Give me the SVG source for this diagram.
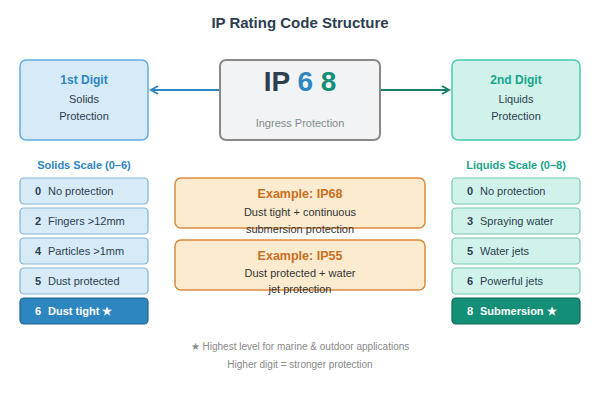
<svg xmlns="http://www.w3.org/2000/svg" width="600" height="400" viewBox="0 0 600 400">
<defs>
<style>
text{font-family:"Liberation Sans",Arial,sans-serif}
.title{font-size:15px;font-weight:bold;fill:#2c3e50}
.h{font-size:12px;font-weight:bold}
.t{font-size:11px;fill:#2c3e50}
.num{font-size:11px;font-weight:bold;fill:#2c3e50}
.bl{fill:#d6eaf8;stroke:#7fb3d5;stroke-width:1.2}
.gr{fill:#d1f2eb;stroke:#76c7b0;stroke-width:1.2}
.ex{fill:#fdebd0;stroke:#dc8a3e;stroke-width:1.5}
.exh{font-size:12.5px;font-weight:bold;fill:#ca6f1e}
.foot{font-size:10px;fill:#888}
</style>
<marker id="ab" markerWidth="10" markerHeight="10" refX="8" refY="5" orient="auto" markerUnits="userSpaceOnUse">
<path d="M1,1 L8,5 L1,9" fill="none" stroke="#2e86c1" stroke-width="2"/>
</marker>
<marker id="ag" markerWidth="10" markerHeight="10" refX="8" refY="5" orient="auto" markerUnits="userSpaceOnUse">
<path d="M1,1 L8,5 L1,9" fill="none" stroke="#17806b" stroke-width="2"/>
</marker>
</defs>
<rect width="600" height="400" fill="#ffffff"/>
<text class="title" x="300" y="28" text-anchor="middle">IP Rating Code Structure</text>

<g id="connectors">
<line x1="220" y1="90" x2="151" y2="90" stroke="#2e86c1" stroke-width="2" marker-end="url(#ab)"/>
<line x1="380" y1="90" x2="449" y2="90" stroke="#17806b" stroke-width="2" marker-end="url(#ag)"/>
</g>

<g id="digit1">
<rect x="20" y="60" width="128" height="80" rx="6" fill="#d6eaf8" stroke="#5dade2" stroke-width="1.5"/>
<text class="h" x="84" y="84" text-anchor="middle" fill="#2e86c1">1st Digit</text>
<text class="t" x="84" y="103" text-anchor="middle">Solids</text>
<text class="t" x="84" y="120" text-anchor="middle">Protection</text>
</g>

<g id="code">
<rect x="220" y="60" width="160" height="80" rx="6" fill="#f2f3f4" stroke="#888888" stroke-width="2"/>
<text x="300" y="91" text-anchor="middle" font-size="28" font-weight="bold"><tspan fill="#2c3e50">IP </tspan><tspan fill="#2e86c1">6</tspan><tspan fill="#2c3e50"> </tspan><tspan fill="#148f77">8</tspan></text>
<text x="300" y="127" text-anchor="middle" font-size="11" fill="#7f8c8d">Ingress Protection</text>
</g>

<g id="digit2">
<rect x="452" y="60" width="128" height="80" rx="6" fill="#d1f2eb" stroke="#48c9b0" stroke-width="1.5"/>
<text class="h" x="516" y="84" text-anchor="middle" fill="#17a589">2nd Digit</text>
<text class="t" x="516" y="103" text-anchor="middle">Liquids</text>
<text class="t" x="516" y="120" text-anchor="middle">Protection</text>
</g>

<text x="84" y="169" text-anchor="middle" font-size="11" font-weight="bold" fill="#2e86c1">Solids Scale (0–6)</text>
<g id="s0"><rect class="bl" x="20" y="178" width="128" height="26" rx="4"/><text class="num" x="35" y="195">0</text><text class="t" x="48" y="195">No protection</text></g>
<g id="s2"><rect class="bl" x="20" y="208" width="128" height="26" rx="4"/><text class="num" x="35" y="225">2</text><text class="t" x="48" y="225">Fingers &gt;12mm</text></g>
<g id="s4"><rect class="bl" x="20" y="238" width="128" height="26" rx="4"/><text class="num" x="35" y="255">4</text><text class="t" x="48" y="255">Particles &gt;1mm</text></g>
<g id="s5"><rect class="bl" x="20" y="268" width="128" height="26" rx="4"/><text class="num" x="35" y="285">5</text><text class="t" x="48" y="285">Dust protected</text></g>
<g id="s6"><rect x="20" y="298" width="128" height="26" rx="4" fill="#2e86c1" stroke="#21618c" stroke-width="1.2"/><text class="num" x="35" y="315" style="fill:#fff">6</text><text x="48" y="315" font-size="11" font-weight="bold" fill="#ffffff">Dust tight ★</text></g>

<text x="516" y="169" text-anchor="middle" font-size="11" font-weight="bold" fill="#17a589">Liquids Scale (0–8)</text>
<g id="l0"><rect class="gr" x="452" y="178" width="128" height="26" rx="4"/><text class="num" x="467" y="195">0</text><text class="t" x="480" y="195">No protection</text></g>
<g id="l3"><rect class="gr" x="452" y="208" width="128" height="26" rx="4"/><text class="num" x="467" y="225">3</text><text class="t" x="480" y="225">Spraying water</text></g>
<g id="l5"><rect class="gr" x="452" y="238" width="128" height="26" rx="4"/><text class="num" x="467" y="255">5</text><text class="t" x="480" y="255">Water jets</text></g>
<g id="l6"><rect class="gr" x="452" y="268" width="128" height="26" rx="4"/><text class="num" x="467" y="285">6</text><text class="t" x="480" y="285">Powerful jets</text></g>
<g id="l8"><rect x="452" y="298" width="128" height="26" rx="4" fill="#148f77" stroke="#0e6655" stroke-width="1.2"/><text class="num" x="467" y="315" style="fill:#fff">8</text><text x="480" y="315" font-size="11" font-weight="bold" fill="#ffffff">Submersion ★</text></g>

<g id="ex68">
<rect class="ex" x="175" y="178" width="250" height="50" rx="6"/>
<text class="exh" x="300" y="198" text-anchor="middle">Example: IP68</text>
<text class="t" x="300" y="216" text-anchor="middle" style="fill:#333">Dust tight + continuous</text>
<text class="t" x="300" y="233" text-anchor="middle" style="fill:#333">submersion protection</text>
</g>
<g id="ex55">
<rect class="ex" x="175" y="240" width="250" height="50" rx="6"/>
<text class="exh" x="300" y="260" text-anchor="middle">Example: IP55</text>
<text class="t" x="300" y="277" text-anchor="middle" style="fill:#333">Dust protected + water</text>
<text class="t" x="300" y="293" text-anchor="middle" style="fill:#333">jet protection</text>
</g>

<text class="foot" x="300" y="350" text-anchor="middle">★ Highest level for marine &amp; outdoor applications</text>
<text class="foot" x="300" y="368" text-anchor="middle">Higher digit = stronger protection</text>
</svg>
